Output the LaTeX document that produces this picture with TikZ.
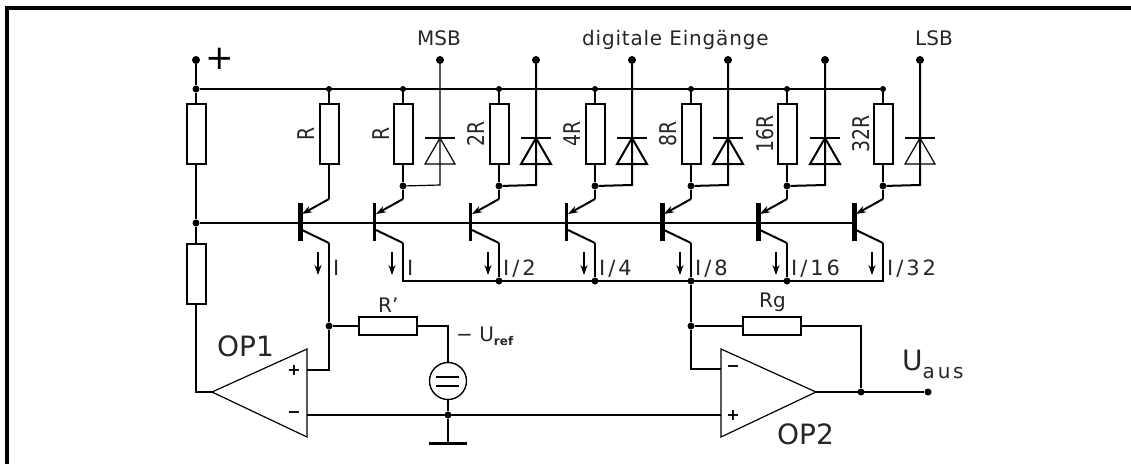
\documentclass[tikz,border=0pt]{standalone}
\usepackage{fontspec}
\setmainfont{DejaVu Sans}
\newfontfamily\spaced[LetterSpace=14]{DejaVu Sans}
\newfontfamily\wider[LetterSpace=4]{DejaVu Sans}
\usetikzlibrary{positioning,arrows.meta}
\tikzset{wire/.style={line width=2pt},
    thinwire/.style={line width=1.2pt},
    dot/.style={circle,fill=black,inner sep=0pt,minimum size=7pt},
    term/.style={circle,fill=black,inner sep=0pt,minimum size=8pt},
    res/.style={rectangle,draw,line width=2pt,inner sep=0pt,minimum width=19pt,minimum height=60pt},
    resh/.style={rectangle,draw,line width=2pt,inner sep=0pt,minimum width=58pt,minimum height=18pt},
    lab/.style={inner sep=0pt,anchor=base west,text=black!85,font=\fontsize{20}{20}\selectfont},
    rlab/.style={inner sep=0pt,rotate=90,xscale=.82,transform shape,text=black!85,font=\fontsize{23}{23}\selectfont},
    ilab/.style={inner sep=0pt,anchor=base west,text=black!85,font=\spaced\fontsize{21}{21}\selectfont},
    biglab/.style={inner sep=0pt,anchor=base west,text=black!85,font=\fontsize{28}{28}\selectfont},
    sign/.style={inner sep=0pt,font=\bfseries\fontsize{16}{16}\selectfont},
    pics/pnp/.style={code={
        \draw[line width=#1] (0,-19) -- (0,19);
        \coordinate (-e) at (29,-23);
        \coordinate (-c) at (29,21);
        \coordinate (-b) at (0,1);
        \draw[wire,->] (-e) -- (2,-8);
        \draw[wire] (2,8) -- (-c);
        \draw[wire,->] (18,30) -- (18,53);
    }},
    pics/diode/.style={code={
        \draw[line width=#1] (-15,-13) -- (15,-13);
        \draw[line width=#1] (0,-13) -- (15,13) -- (-15,13) -- cycle;
    }}}

\begin{document}
\begin{tikzpicture}[>={Stealth[length=10pt,width=7pt]},x=1pt,y=-1pt]
    \useasboundingbox (0,0) rectangle (1131,464);

    % frame
    \coordinate (fa) at (7,464);
    \coordinate (fb) at (7,8);
    \coordinate (fc) at (1131,8);
    \draw[line width=4pt] (fa) -- (fb) -- (fc);

    % supply rail
    \node[term] (vcc) at (196,60) {};
    \node[dot] (n0) at (196,89) {};
    \node[dot,minimum size=6pt] (n1) at (329,89) {};
    \node[dot,minimum size=6pt] (n2) at (403,89) {};
    \node[dot,minimum size=6pt] (n3) at (499,89) {};
    \node[dot,minimum size=6pt] (n4) at (595,89) {};
    \node[dot,minimum size=6pt] (n5) at (691,89) {};
    \node[dot,minimum size=6pt] (n6) at (787,89) {};
    \node[dot,minimum size=6pt] (n7) at (883,89) {};

    % resistors
    \node[res] (r0) at (196,134) {};
    \node[res] (r1) at (329,134) {};
    \node[res] (r2) at (403,134) {};
    \node[res] (r3) at (499,134) {};
    \node[res] (r4) at (595,134) {};
    \node[res] (r5) at (691,134) {};
    \node[res] (r6) at (787,134) {};
    \node[res] (r7) at (883,134) {};
    \node[res] (rb) at (196,274) {};

    % junctions
    \node[dot] (j2) at (403,186) {};
    \node[dot] (j3) at (499,186) {};
    \node[dot] (j4) at (595,186) {};
    \node[dot] (j5) at (691,186) {};
    \node[dot] (j6) at (787,186) {};
    \node[dot] (j7) at (883,186) {};
    \node[dot] (nb) at (196,223) {};

    % digital inputs
    \node[term] (t2) at (440,60) {};
    \node[term] (t3) at (536,60) {};
    \node[term] (t4) at (632,60) {};
    \node[term] (t5) at (728,60) {};
    \node[term] (t6) at (825,60) {};
    \node[term] (t7) at (920,60) {};
    \coordinate (k2) at (440,185);
    \coordinate (k3) at (536,185);
    \coordinate (k4) at (632,185);
    \coordinate (k5) at (728,185);
    \coordinate (k6) at (825,185);
    \coordinate (k7) at (920,185);

    \pic at (440,151) {diode=1.2pt};
    \pic at (536,151) {diode=2pt};
    \pic at (632,151) {diode=2pt};
    \pic at (728,151) {diode=2pt};
    \pic at (825,151) {diode=2pt};
    \pic at (920,151) {diode=1.2pt};

    % transistors
    \pic (q1) at (300,222) {pnp=5pt};
    \pic (q2) at (374,222) {pnp=3pt};
    \pic (q3) at (470,222) {pnp=3pt};
    \pic (q4) at (566,222) {pnp=3pt};
    \pic (q5) at (662,222) {pnp=5pt};
    \pic (q6) at (758,222) {pnp=5pt};
    \pic (q7) at (854,222) {pnp=5pt};

    % current sum
    \coordinate (b2) at (403,281);
    \node[dot] (b3) at (499,281) {};
    \node[dot] (b4) at (595,281) {};
    \node[dot] (b5) at (691,281) {};
    \node[dot] (b6) at (787,281) {};
    \coordinate (b7) at (883,281);

    % amplifiers
    \coordinate (ap1) at (307,349);
    \coordinate (ap2) at (307,437);
    \coordinate (ao) at (212,392);
    \coordinate (ainp) at (307,370);
    \coordinate (ainm) at (307,415);
    \coordinate (bp1) at (721,349);
    \coordinate (bp2) at (721,437);
    \coordinate (bo) at (816,392);
    \coordinate (binm) at (721,369);
    \coordinate (binp) at (721,415);
    \draw[thinwire] (ap1) -- (ap2) -- (ao) -- cycle;
    \draw[thinwire] (bp1) -- (bp2) -- (bo) -- cycle;
    \node[sign] (sa) at (294,370) {+};
    \node[sign] (sb) at (294,415) {−};
    \node[sign] (sc) at (733,369) {−};
    \node[sign] (sd) at (733,415) {+};

    % reference branch
    \node[dot] (ja) at (329,326) {};
    \node[resh] (rp) at (388,326) {};
    \node[draw,circle,line width=1.4pt,inner sep=0pt,minimum size=37pt] (src) at (448,381) {};
    \draw[wire] (436,377) -- (459,377);
    \draw[wire] (436,386) -- (459,386);
    \node[dot] (g0) at (448,415) {};
    \node[rectangle,fill=black,inner sep=0pt,minimum width=38pt,minimum height=3pt] (gnd) at (448,443.5) {};

    % feedback
    \node[dot] (jb) at (691,326) {};
    \node[resh] (rg) at (772,326) {};
    \node[dot] (jc) at (861,392) {};
    \node[dot] (out) at (928,392) {};

    % connections
    \draw[wire] (vcc) -- (n0);
    \draw[wire] (n0) -- (n7);
    \draw[wire] (n0) -- (r0);
    \draw[wire] (n1) -- (r1);
    \draw[wire] (n2) -- (r2);
    \draw[wire] (n3) -- (r3);
    \draw[wire] (n4) -- (r4);
    \draw[wire] (n5) -- (r5);
    \draw[wire] (n6) -- (r6);
    \draw[wire] (n7) -- (r7);
    \draw[wire] (r0) -- (nb);
    \draw[wire] (nb) -- (rb);
    \draw[wire] (r1) -- (q1-e);
    \draw[wire] (r2) -- (j2);
    \draw[wire] (r3) -- (j3);
    \draw[wire] (r4) -- (j4);
    \draw[wire] (r5) -- (j5);
    \draw[wire] (r6) -- (j6);
    \draw[wire] (r7) -- (j7);
    \draw[wire] (j2) -- (q2-e);
    \draw[wire] (j3) -- (q3-e);
    \draw[wire] (j4) -- (q4-e);
    \draw[wire] (j5) -- (q5-e);
    \draw[wire] (j6) -- (q6-e);
    \draw[wire] (j7) -- (q7-e);
    \draw[thinwire] (t2) -- (k2) -- (j2);
    \draw[wire] (t3) -- (k3) -- (j3);
    \draw[wire] (t4) -- (k4) -- (j4);
    \draw[wire] (t5) -- (k5) -- (j5);
    \draw[wire] (t6) -- (k6) -- (j6);
    \draw[wire] (t7) -- (k7) -- (j7);
    \draw[wire] (nb) -- (q7-b);
    \draw[wire] (q1-c) -- (ja);
    \draw[wire] (ja) |- (ainp);
    \draw[wire] (ja) -- (rp);
    \draw[thinwire] (rp) -| (src);
    \draw[wire] (src) -- (g0);
    \draw[wire] (g0) -- (gnd);
    \draw[wire] (ainm) -- (binp);
    \draw[wire] (q2-c) -- (b2) -- (b7) -- (q7-c);
    \draw[wire] (q3-c) -- (b3);
    \draw[wire] (q4-c) -- (b4);
    \draw[wire] (q5-c) -- (b5);
    \draw[wire] (q6-c) -- (b6);
    \draw[wire] (b5) -- (jb);
    \draw[wire] (jb) |- (binm);
    \draw[wire] (jb) -- (rg);
    \draw[thinwire] (rg) -| (jc);
    \draw[wire] (bo) -- (out);
    \draw[wire] (rb) |- (ao);

    % labels
    \node[inner sep=0pt,font=\fontsize{34}{34}\selectfont] (lplus) at (220,59) {+};
    \node[lab] (lmsb) at (417,45) {MSB};
    \node[lab,font=\wider\fontsize{20}{20}\selectfont] (ldig) at (582,45) {digitale Eingänge};
    \node[lab] (llsb) at (915,45) {LSB};
    \node[rlab] (lr1) at (306,134) {R};
    \node[rlab] (lr2) at (381,134) {R};
    \node[rlab] (lr3) at (476,134) {2R};
    \node[rlab] (lr4) at (572,134) {4R};
    \node[rlab] (lr5) at (668,134) {8R};
    \node[rlab] (lr6) at (765,134) {16R};
    \node[rlab] (lr7) at (861,134) {32R};
    \node[ilab] (li1) at (333,275) {I};
    \node[ilab] (li2) at (407,275) {I};
    \node[ilab] (li3) at (503,275) {I/2};
    \node[ilab] (li4) at (599,275) {I/4};
    \node[ilab] (li5) at (695,275) {I/8};
    \node[ilab] (li6) at (791,275) {I/16};
    \node[ilab] (li7) at (887,275) {I/32};
    \node[lab] (lrp) at (378,312) {R'};
    \node[lab] (lrg) at (759,307) {Rg};
    \node[biglab] (lop1) at (217,356) {OP1};
    \node[biglab] (lop2) at (777,444) {OP2};
    \node[lab] (luref) at (456,341) {− U\raisebox{-4pt}{\bfseries\fontsize{12}{12}\selectfont ref}};
    \node[biglab] (luaus) at (902,370) {U\raisebox{-8pt}{\spaced\fontsize{20}{20}\selectfont aus}};
\end{tikzpicture}
\end{document}
